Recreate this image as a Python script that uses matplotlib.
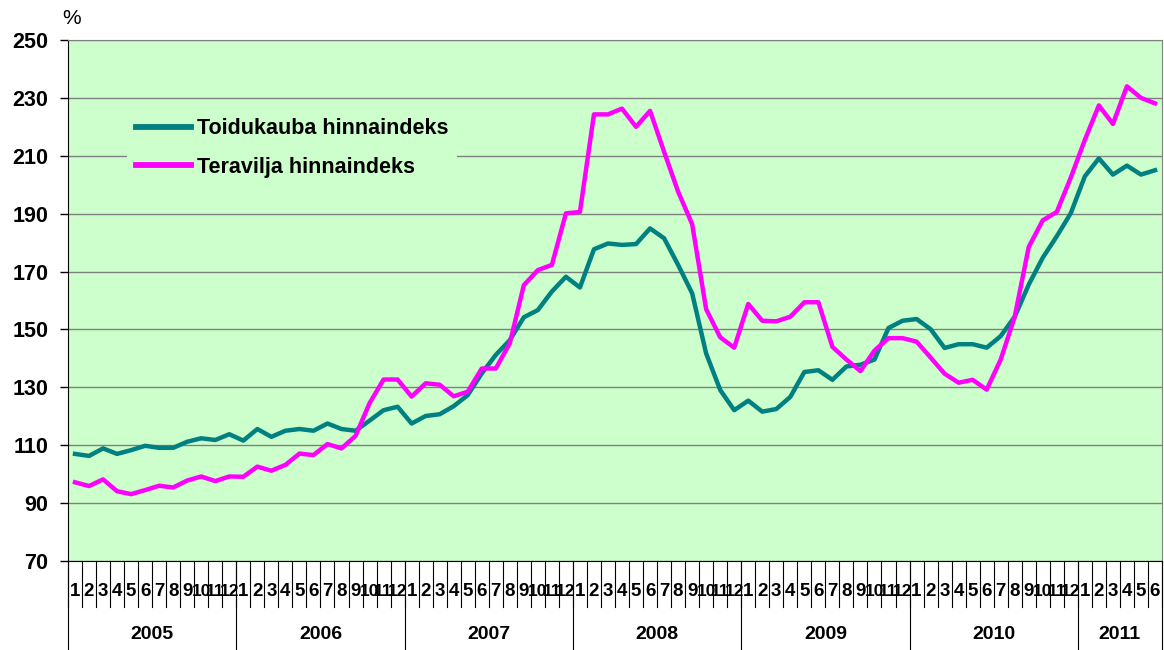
import matplotlib
matplotlib.use('Agg')
import matplotlib.pyplot as plt
import matplotlib.transforms as mtransforms
from matplotlib import font_manager

plt.rcParams['font.family'] = ['Liberation Sans', 'DejaVu Sans']

years = ['2005', '2006', '2007', '2008', '2009', '2010', '2011']
months_in_year = [12, 12, 12, 12, 12, 12, 6]

toidukauba = [107.0, 106.3, 108.9, 107.0, 108.3, 109.8, 109.1, 109.1, 111.2, 112.4, 111.8, 113.8,
              111.6, 115.6, 112.9, 115.0, 115.6, 115.0, 117.5, 115.6, 115.0, 118.5, 122.1, 123.3,
              117.5, 120.1, 120.7, 123.5, 127.3, 134.8, 141.2, 146.3, 154.2, 156.7, 163.1, 168.2,
              164.5, 177.7, 179.7, 179.2, 179.5, 184.9, 181.5, 172.3, 162.5, 141.7, 129.1, 122.1,
              125.4, 121.6, 122.5, 126.7, 135.3, 135.9, 132.6, 137.2, 137.8, 139.6, 150.5, 153.0,
              153.6, 150.1, 143.6, 144.9, 144.9, 143.7, 147.7, 154.4, 165.5, 174.8, 182.2, 190.2,
              202.9, 209.1, 203.5, 206.6, 203.5, 205.0]

teravilja = [97.2, 95.9, 98.2, 94.1, 93.1, 94.5, 96.0, 95.4, 97.8, 99.2, 97.6, 99.2,
             99.1, 102.6, 101.2, 103.2, 107.1, 106.6, 110.4, 108.9, 113.2, 124.5, 132.7, 132.7,
             126.8, 131.4, 130.9, 126.9, 128.5, 136.5, 136.5, 145.2, 165.3, 170.5, 172.3, 190.1,
             190.6, 224.3, 224.3, 226.3, 220.0, 225.5, 211.4, 197.6, 186.4, 157.0, 147.3, 143.7,
             158.8, 153.0, 152.8, 154.4, 159.4, 159.4, 144.0, 139.6, 135.6, 142.7, 147.0, 147.0,
             145.8, 140.3, 134.7, 131.6, 132.6, 129.2, 139.6, 154.4, 178.5, 187.7, 190.6, 202.5,
             215.5, 227.4, 221.0, 234.0, 230.0, 228.1]

yticks = list(range(70, 251, 20))

month_labels = []
for n in months_in_year:
    month_labels += [str(m) for m in range(1, n + 1)]
x = list(range(len(month_labels)))

# narrow face for the two-digit month numbers, if it is there
names = {f.name for f in font_manager.fontManager.ttflist}
narrow = 'Liberation Sans Narrow' if 'Liberation Sans Narrow' in names else 'Liberation Sans'

fig = plt.figure(figsize=(11.64, 6.5), dpi=100)
ax = fig.add_axes([68/1164, 1 - 561/650, 1094/1164, 521/650])
ax.set_facecolor('#CCFFCC')

ax.plot(x, toidukauba, color='#008080', lw=3.2, label='Toidukauba hinnaindeks', solid_joinstyle='round')
ax.plot(x, teravilja, color='#FF00FF', lw=3.2, label='Teravilja hinnaindeks', solid_joinstyle='round')

ax.set_xlim(-0.5, len(x) - 0.5)
ax.set_ylim(70, 250)
ax.set_yticks(yticks)
ax.set_yticklabels([str(v) for v in yticks], fontsize=15.5, fontweight='bold')
ax.tick_params(axis='y', direction='out', length=6, width=1, pad=8)
ax.set_xticks([])
ax.yaxis.grid(True, color='#808080', lw=1)
ax.set_axisbelow(True)

for s in ['top', 'right']:
    ax.spines[s].set_color('#808080')
ax.spines['left'].set_color('black')
ax.spines['bottom'].set_color('black')

trans = mtransforms.blended_transform_factory(ax.transData, ax.transAxes)

# month separators and labels
for k in range(len(x) + 1):
    ax.plot([k - 0.5, k - 0.5], [0, -0.088], transform=trans, color='black', lw=0.8, clip_on=False)
for i, lab in enumerate(month_labels):
    if len(lab) > 1:
        ax.text(i, -0.0595, lab, transform=trans, ha='center', va='center',
                fontsize=12.5, fontweight='bold', family=narrow)
    else:
        ax.text(i, -0.0595, lab, transform=trans, ha='center', va='center',
                fontsize=13.5, fontweight='bold')

# year separators and labels
start = 0
for yr, n in zip(years, months_in_year):
    ax.plot([start - 0.5, start - 0.5], [0, -0.171], transform=trans, color='black', lw=0.8, clip_on=False)
    ax.text(start + n / 2 - 0.5, -0.142, yr, transform=trans, ha='center', va='center',
            fontsize=14, fontweight='bold')
    start += n
ax.plot([start - 0.5, start - 0.5], [0, -0.171], transform=trans, color='black', lw=0.8, clip_on=False)

fig.text(62/1164, 1 - 19/650, '%', fontsize=15, ha='left', va='center')

leg = ax.legend(loc='upper left', bbox_to_anchor=(0.054, 0.866), frameon=True,
                facecolor='#CCFFCC', edgecolor='none', framealpha=1, fancybox=False,
                prop={'size': 15.5, 'weight': 'bold'}, handlelength=2.55,
                handletextpad=0.3, labelspacing=0.8, borderpad=0.4, borderaxespad=0)
for line in leg.get_lines():
    line.set_linewidth(4.2)

fig.savefig('out.png', dpi=100)
